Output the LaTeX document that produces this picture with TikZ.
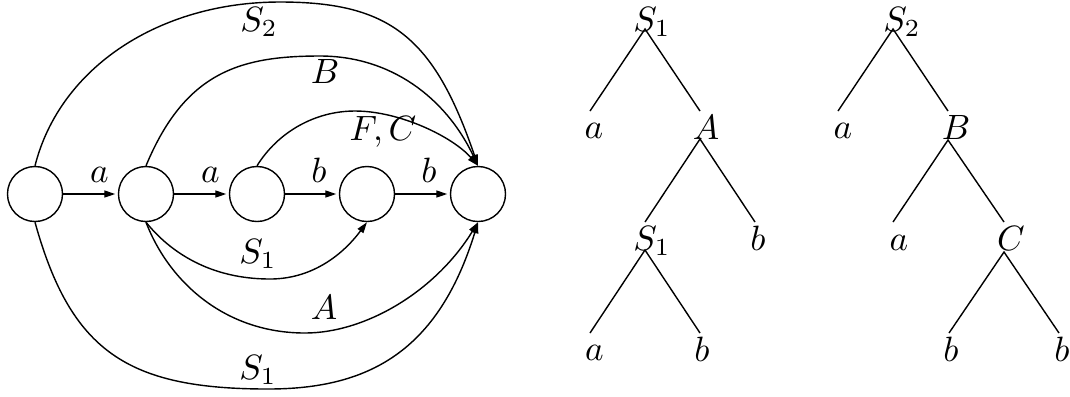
\documentclass[tikz,border=0pt]{standalone}
\usetikzlibrary{arrows.meta}
\begin{document}
\begin{tikzpicture}[x=0.01cm, y=-0.01cm,
  state/.style={circle, draw, line width=0.4pt, minimum size=0.55cm, inner sep=0pt},
  lbl/.style={anchor=base, inner sep=0pt},
  edge/.style={line width=0.4pt, -{Triangle[length=1.1mm,width=0.7mm]}},
  branch/.style={line width=0.4pt}]
\useasboundingbox (0,0) rectangle (1070,396);

% ---------- automaton ----------
\node[state] (n1) at (35,194) {};
\node[state] (n2) at (146,194) {};
\node[state] (n3) at (257,194) {};
\node[state] (n4) at (367,194) {};
\node[state] (n5) at (478,194) {};

\draw[edge, shorten >=0.025cm] (n1) -- (n2);
\draw[edge, shorten >=0.025cm] (n2) -- (n3);
\draw[edge, shorten >=0.025cm] (n3) -- (n4);
\draw[edge, shorten >=0.025cm] (n4) -- (n5);

\node[lbl] (la1) at (99.5,182) {$a$};
\node[lbl] (la2) at (210.5,182) {$a$};
\node[lbl] (lb1) at (319,182) {$b$};
\node[lbl] (lb2) at (429,182) {$b$};

\draw[edge] (n1.north) .. controls (60,67) and (160,2) .. (280,2)
  .. controls (390,2) and (434,37) .. (n5.north);
\draw[edge] (n2.north) .. controls (185,72) and (240,56) .. (320,56)
  .. controls (390,56) and (445.5,97) .. (n5.north);
\draw[edge] (n3.north) .. controls (278,132) and (315,111) .. (355,111)
  .. controls (400,111) and (453,137) .. (n5.north);
\draw[edge] (n2.south) .. controls (170,252) and (210,279) .. (270,279)
  .. controls (310,279) and (341,257) .. (n4.south);
\draw[edge] (n2.south) .. controls (169,282) and (225,333) .. (305,333)
  .. controls (365,333) and (435,292) .. (n5.south);
\draw[edge] (n1.south) .. controls (71,352) and (128,389) .. (268,389)
  .. controls (368,389) and (438,352) .. (n5.south);

\node[lbl] (lS2) at (259,31) {$S_2$};
\node[lbl] (lB) at (325,83) {$B$};
\node[lbl] (lFC) at (383,140) {$F,C$};
\node[lbl] (lS1i) at (258,263) {$S_1$};
\node[lbl] (lA) at (324,319) {$A$};
\node[lbl] (lS1o) at (258,379) {$S_1$};

% ---------- left tree ----------
\node[lbl] (t1r) at (652,31) {$S_1$};
\node[lbl] (t1a) at (594,138) {$a$};
\node[lbl] (t1A) at (706,139) {$A$};
\node[lbl] (t1s) at (652,250) {$S_1$};
\node[lbl] (t1b) at (758,250) {$b$};
\node[lbl] (t1aa) at (594.5,360) {$a$};
\node[lbl] (t1bb) at (702,361) {$b$};

\coordinate (p1) at (645,29);
\coordinate (e1) at (590,111);
\coordinate (e2) at (700,111);
\coordinate (p2) at (700,139);
\coordinate (e3) at (645,222);
\coordinate (e4) at (755,222);
\coordinate (p3) at (645,250);
\coordinate (e5) at (590,333);
\coordinate (e6) at (700,333);
\draw[branch] (e1) -- (p1) -- (e2);
\draw[branch] (e3) -- (p2) -- (e4);
\draw[branch] (e5) -- (p3) -- (e6);

% ---------- right tree ----------
\node[lbl] (t2r) at (902,31) {$S_2$};
\node[lbl] (t2a) at (843,138) {$a$};
\node[lbl] (t2B) at (956,139) {$B$};
\node[lbl] (t2aa) at (899,250) {$a$};
\node[lbl] (t2C) at (1011,250) {$C$};
\node[lbl] (t2b) at (951,361) {$b$};
\node[lbl] (t2bb) at (1062,361) {$b$};

\coordinate (q1) at (893,29);
\coordinate (f1) at (838,111);
\coordinate (f2) at (948,111);
\coordinate (q2) at (948,140);
\coordinate (f3) at (893,222);
\coordinate (f4) at (1004,222);
\coordinate (q3) at (1004,252);
\coordinate (f5) at (949,333);
\coordinate (f6) at (1059,333);
\draw[branch] (f1) -- (q1) -- (f2);
\draw[branch] (f3) -- (q2) -- (f4);
\draw[branch] (f5) -- (q3) -- (f6);
\end{tikzpicture}
\end{document}
